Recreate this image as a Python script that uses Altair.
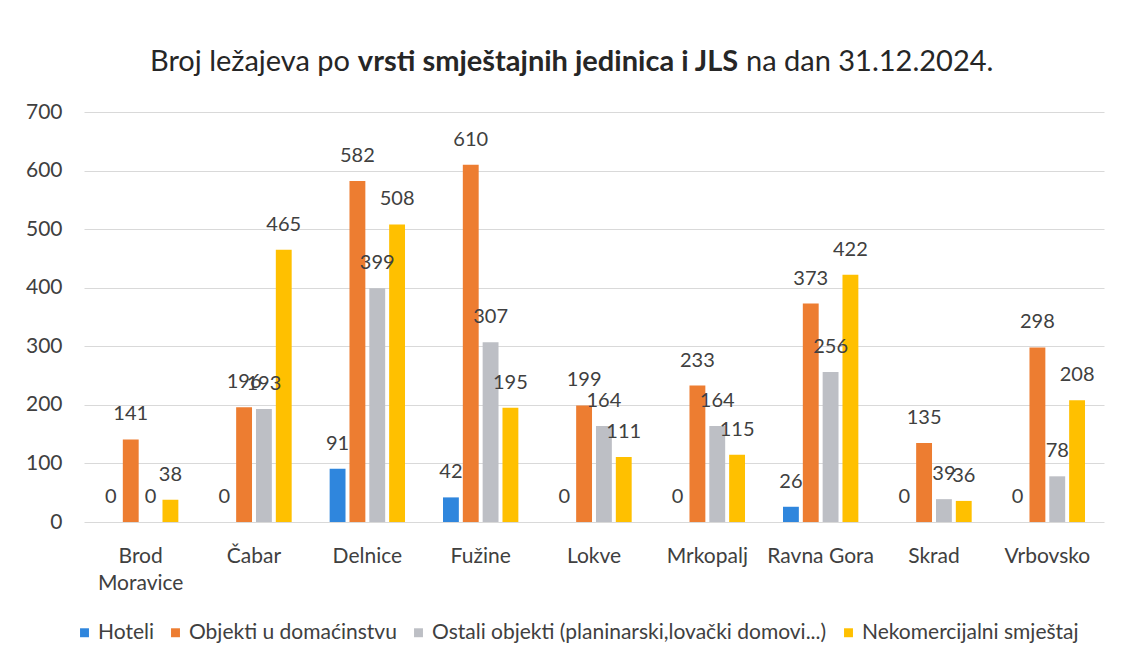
import altair as alt
import pandas as pd

categories = ["Brod\nMoravice", "Čabar", "Delnice", "Fužine", "Lokve",
              "Mrkopalj", "Ravna Gora", "Skrad", "Vrbovsko"]
series = ["Hoteli", "Objekti u domaćinstvu",
          "Ostali objekti (planinarski,lovački domovi...)",
          "Nekomercijalni smještaj"]
hoteli = [0, 0, 91, 42, 0, 0, 26, 0, 0]
domacinstvo = [141, 196, 582, 610, 199, 233, 373, 135, 298]
ostali = [0, 193, 399, 307, 164, 164, 256, 39, 78]
nekomercijalni = [38, 465, 508, 195, 111, 115, 422, 36, 208]
colors = ["#2f86dd", "#ed7d31", "#bdbfc5", "#ffc000"]
y_ticks = [0, 100, 200, 300, 400, 500, 600, 700]

title_left = "Broj ležajeva po"
title_bold = "vrsti smještajnih jedinica i JLS"
title_right = "na dan 31.12.2024."

rows = []
for s, vals in zip(series, [hoteli, domacinstvo, ostali, nekomercijalni]):
    for c, v in zip(categories, vals):
        rows.append({"JLS": c, "Vrsta": s, "Broj": v})
df = pd.DataFrame(rows)

FONT = "Lato"
TXT = "#404040"

base = alt.Chart(df).encode(
    x=alt.X("JLS:N", sort=categories,
            scale=alt.Scale(paddingInner=0.3, paddingOuter=0.15),
            axis=alt.Axis(title=None, labelExpr="split(datum.label, '\\n')",
                          labelFontSize=21, labelPadding=23, ticks=False,
                          domain=False, labelColor=TXT, labelFont=FONT,
                          labelAngle=0, labelLineHeight=27)),
    xOffset=alt.XOffset("Vrsta:N", sort=series,
                        scale=alt.Scale(paddingInner=0.2, paddingOuter=0.1)),
    y=alt.Y("Broj:Q", scale=alt.Scale(domain=[0, 700], nice=False),
            axis=alt.Axis(title=None, values=y_ticks, labelFontSize=21,
                          labelFont=FONT, labelColor=TXT, ticks=False,
                          domain=False, labelPadding=22,
                          gridColor="#d9d9d9", gridWidth=1)),
)

bars = base.mark_bar().encode(
    color=alt.Color("Vrsta:N", sort=series,
                    scale=alt.Scale(domain=series, range=colors),
                    legend=alt.Legend(title=None, orient="none",
                                      direction="horizontal",
                                      legendX=-10, legendY=510,
                                      symbolType="square", symbolSize=80,
                                      labelFontSize=21, labelFont=FONT,
                                      labelColor=TXT, columnPadding=11,
                                      labelOffset=3, symbolStrokeWidth=0,
                                      labelLimit=600))
)

labels = base.mark_text(baseline="bottom", dy=-15, fontSize=20,
                        font=FONT, color=TXT).encode(
    text=alt.Text("Broj:Q")
)

def title_part(txt, x, align, weight):
    return alt.Chart(pd.DataFrame({"t": [txt]})).mark_text(
        align=align, baseline="middle", fontSize=29, font=FONT,
        fontWeight=weight, color="#262626"
    ).encode(text="t:N", x=alt.value(x), y=alt.value(-50))

t1 = title_part(title_left, 266, "right", "normal")
t2 = title_part(title_bold, 464, "center", "bold")
t3 = title_part(title_right, 662, "left", "normal")

chart = alt.layer(bars, labels, t1, t2, t3).properties(
    width=1020, height=410,
    autosize=alt.AutoSizeParams(type="none"),
    padding={"left": 76, "top": 104, "right": 10, "bottom": 125},
    background="white",
).configure_view(stroke=None)

chart.save("out.html", embed_options={"renderer": "svg", "actions": False})
